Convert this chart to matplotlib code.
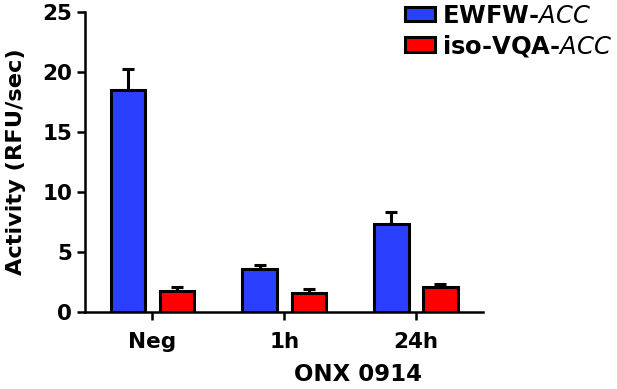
import matplotlib
matplotlib.use("Agg")
import matplotlib.pyplot as plt
import numpy as np

plt.rcParams['font.family'] = ['DejaVu Sans']
plt.rcParams['font.weight'] = 'bold'
plt.rcParams['mathtext.fontset'] = 'custom'
plt.rcParams['mathtext.it'] = 'DejaVu Sans:style=oblique:weight=normal'
plt.rcParams['mathtext.rm'] = 'DejaVu Sans:weight=bold'

groups = ["Neg", "1h", "24h"]
ewfw = [18.5, 3.6, 7.35]
ewfw_err = [1.75, 0.3, 0.95]
iso = [1.75, 1.6, 2.05]
iso_err = [0.3, 0.3, 0.3]

blue = "#2b40ff"
red = "#ff0000"

fig = plt.figure(figsize=(6.17, 3.89), dpi=100)
ax = fig.add_axes([0.138, 0.198, 0.645, 0.771])

x = np.arange(len(groups))
w = 0.26
off = 0.186

ax.bar(x - off, ewfw, w, color=blue, edgecolor="black", linewidth=2.2,
       yerr=[np.zeros(3), ewfw_err], capsize=4,
       error_kw=dict(elinewidth=2.2, capthick=2.2, ecolor="black"),
       label="EWFW-$\\mathit{ACC}$", zorder=3)
ax.bar(x + off, iso, w, color=red, edgecolor="black", linewidth=2.2,
       yerr=[np.zeros(3), iso_err], capsize=4,
       error_kw=dict(elinewidth=2.2, capthick=2.2, ecolor="black"),
       label="iso-VQA-$\\mathit{ACC}$", zorder=3)

ax.set_xlim(-0.51, 2.51)
ax.set_ylim(0, 25)
ax.set_yticks([0, 5, 10, 15, 20, 25])
ax.set_xticks(x)
ax.set_xticklabels(groups)

for s in ["top", "right"]:
    ax.spines[s].set_visible(False)
for s in ["left", "bottom"]:
    ax.spines[s].set_linewidth(1.8)

ax.tick_params(axis="both", width=1.8, length=5.8, labelsize=15.5)
ax.tick_params(axis="y", pad=3.5)
ax.tick_params(axis="x", pad=8.5)

ax.set_ylabel("Activity (RFU/sec)", fontsize=16.2, fontweight="bold", labelpad=12)
ax.set_xlabel("ONX 0914", fontsize=16.5, fontweight="bold", x=0.686, labelpad=8)

leg = fig.legend(loc="upper left", bbox_to_anchor=(405 / 617, 0.99), frameon=False,
                 fontsize=17.5, handlelength=1.23, handleheight=0.53,
                 labelspacing=0.2, handletextpad=0.3, borderpad=0,
                 borderaxespad=0)
for p in leg.get_patches():
    p.set_linewidth(2.2)

fig.savefig("out.png", dpi=100)
